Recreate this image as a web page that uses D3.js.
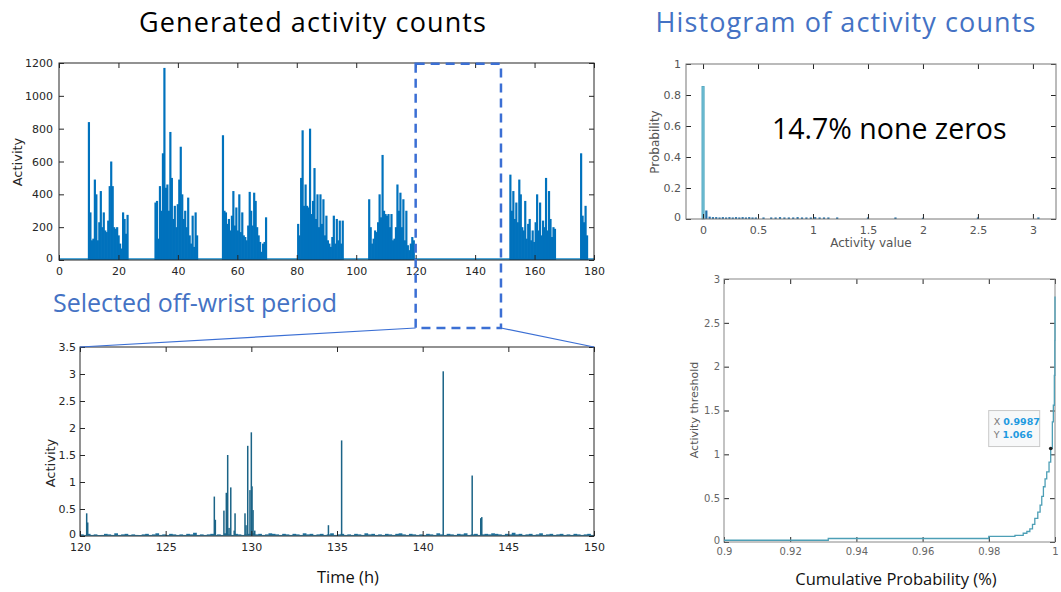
<!DOCTYPE html>
<html>
<head>
<meta charset="utf-8">
<style>
html, body { margin:0; padding:0; background:white; }
svg { display:block; }
.tick line { stroke:#262626; }
</style>
</head>
<body>
<svg id="fig" width="1061" height="592"></svg>
<script src="https://d3js.org/d3.v7.min.js"></script>
<script>
// ---- data: generated activity counts (0.5 h steps inside each wear bout) ----
const boutStarts = [9.7, 32.1, 54.8, 80.1, 104.0, 151.5, 175.3];
const boutStep = 0.5;
const bout1 = [840,290,120,130,490,400,120,230,420,200,290,180,170,240,450,600,450,200,190,200,150,100,70,290,250,160,275];
const bout2 = [350,360,130,450,300,650,1170,440,460,300,780,500,250,330,200,340,490,690,400,250,300,200,380,150,100,270,80,290,150];
const bout3 = [760,300,290,220,250,180,270,420,210,320,180,400,170,290,150,140,120,210,415,300,210,410,360,200,150,110,50,100,110,260];
const bout4 = [220,150,500,790,330,460,330,320,800,280,360,560,250,400,200,400,220,370,150,270,120,100,80,140,270,100,250,120,240,100,240];
const bout5 = [370,200,100,130,180,170,230,400,260,640,300,280,270,280,200,280,120,130,200,460,300,410,200,370,120,300,90,60,100,140,120];
const bout6 = [520,300,420,250,350,230,490,400,200,180,360,130,220,250,120,180,110,230,400,180,350,150,240,200,500,180,420,250,140,200,190];
const bout7 = [650,270,230,330,150];
const bouts = [bout1, bout2, bout3, bout4, bout5, bout6, bout7];
const zoomRange = [120, 148.7];

// ---- data: selected off-wrist period (120-150 h) ----
const noiseStart = 120, noiseStep = 0.2;
const offNoise = [
  0.03,0.02,0.04,0.02,0.03,0.01,0.02,0.04,0.03,0.02,
  0.05,0.02,0.03,0.04,0.02,0.03,0.02,0.01,0.03,0.04,
  0.02,0.03,0.05,0.02,0.03,0.02,0.04,0.03,0.02,0.03,
  0.02,0.04,0.03,0.06,0.02,0.03,0.02,0.03,0.04,0.02,
  0.03,0.02,0.05,0.03,0.02,0.04,0.03,0.02,0.03,0.04,
  0.05,0.03,0.04,0.02,0.03,0.05,0.04,0.03,0.02,0.04,
  0.03,0.02,0.04,0.03,0.02,0.05,0.03,0.04,0.02,0.03,
  0.04,0.02,0.03,0.05,0.02,0.03,0.04,0.02,0.03,0.02,
  0.04,0.03,0.02,0.05,0.03,0.04,0.02,0.03,0.02,0.04,
  0.03,0.02,0.04,0.05,0.03,0.02,0.04,0.03,0.02,0.03,
  0.02,0.04,0.03,0.02,0.05,0.03,0.02,0.04,0.03,0.02,
  0.04,0.03,0.05,0.02,0.03,0.04,0.02,0.03,0.04,0.03,
  0.05,0.04,0.03,0.02,0.04,0.03,0.06,0.03,0.04,0.02,
  0.03,0.04,0.02,0.03,0.05,0.02,0.03,0.04,0.02,0.03,
  0.04,0.02,0.03,0.02,0.04,0.03,0.02,0.03,0.04,0.02];
const spikeTimes = [120.39,120.45,127.84,127.9,128.4,128.54,128.62,128.7,128.8,129.0,129.05,129.63,129.69,129.79,129.92,130.0,130.04,130.1,130.2,134.5,135.27,141.2,142.89,143.39,143.45];
const spikeVals  = [0.42,0.25,0.73,0.3,0.47,0.8,1.5,0.15,0.9,0.1,0.42,0.42,0.2,1.67,0.85,1.92,0.92,0.48,0.1,0.2,1.77,3.05,1.12,0.33,0.35];

// ---- data: histogram of activity counts ----
const histX = [0.00,0.03,0.06,0.09,0.12,0.15,0.18,0.21,0.24,0.27,0.30,0.33,0.36,0.39,0.42,0.45,0.48,0.55,0.62,0.66,0.70,0.74,0.78,0.82,0.86,0.90,0.94,0.98,1.02,1.06,1.10,1.14,1.22,1.50,1.75,2.00,2.50,3.05];
const histP = [0.855,0.055,0.015,0.012,0.012,0.01,0.012,0.01,0.012,0.01,0.012,0.01,0.012,0.01,0.012,0.01,0.01,0.01,0.01,0.01,0.012,0.01,0.01,0.01,0.012,0.01,0.01,0.01,0.012,0.01,0.01,0.01,0.01,0.01,0.01,0.008,0.01,0.01];

// ---- data: cumulative probability vs activity threshold ----
const cdfX = [0.9,0.9315,0.98,0.9879,0.9904,0.9915,0.9924,0.9932,0.9939,0.9948,0.9955,0.996,0.9965,0.997,0.9975,0.9982,0.9987,0.9992,0.9995,0.9998,0.99995,1.0];
const cdfY = [0.02,0.04,0.065,0.076,0.1,0.12,0.15,0.2,0.27,0.34,0.42,0.52,0.63,0.72,0.8,0.91,1.066,1.37,1.56,1.9,2.3,2.8];
const tipX = 0.9987, tipY = 1.066;

const svg = d3.select("#fig");
const blue = "#4472C4";
const tickFont = "DejaVu Sans, sans-serif";

function frame(g, x, y, opt){
  const [x0,x1] = x.range(), [y1,y0] = y.range();
  const col = opt.color;
  const bx = g.append("g").attr("transform",`translate(0,${y1})`)
    .call(d3.axisBottom(x).tickValues(opt.xt).tickFormat(opt.xf).tickSize(-5).tickPadding(opt.xpad||6));
  const by = g.append("g").attr("transform",`translate(${x0},0)`)
    .call(d3.axisLeft(y).tickValues(opt.yt).tickFormat(opt.yf).tickSize(-5).tickPadding(opt.ypad||5));
  const tx = g.append("g").attr("transform",`translate(0,${y0})`)
    .call(d3.axisTop(x).tickValues(opt.xt).tickFormat("").tickSize(-5));
  const ry = g.append("g").attr("transform",`translate(${x1},0)`)
    .call(d3.axisRight(y).tickValues(opt.yt).tickFormat("").tickSize(-5));
  [bx,by,tx,ry].forEach(a=>{
    a.select(".domain").remove();
    a.selectAll(".tick line").attr("stroke",col);
    a.selectAll("text").attr("font-family",tickFont).attr("font-size",opt.fs).attr("fill",opt.tc);
  });
  // lift the lowest y label a little so it does not sit on the first x label
  by.selectAll(".tick").filter(d=>d===0).select("text").attr("dy","0.1em");
  g.append("rect").attr("x",x0).attr("y",y0).attr("width",x1-x0).attr("height",y1-y0)
    .attr("fill","none").attr("stroke",col).attr("stroke-width",1);
}

// ================= top-left: generated activity counts =================
const xA = d3.scaleLinear().domain([0,180]).range([59,594]);
const yA = d3.scaleLinear().domain([0,1200]).range([260,63]);
const gA = svg.append("g");
gA.append("line").attr("x1",xA(0)).attr("x2",xA(180)).attr("y1",yA(0)-1).attr("y2",yA(0)-1)
  .attr("stroke","#4fa9dc").attr("stroke-width",2);
bouts.forEach((vals,b)=>{
  gA.append("g").selectAll("rect").data(vals).join("rect")
    .attr("x",(d,i)=>xA(boutStarts[b]+i*boutStep))
    .attr("width",xA(boutStep)-xA(0)+0.7)
    .attr("y",d=>yA(d))
    .attr("height",d=>yA(0)-yA(d))
    .attr("fill","#0072BD");
});
frame(gA,xA,yA,{xt:d3.range(0,181,20),yt:d3.range(0,1201,200),xf:d3.format("d"),yf:d3.format("d"),
  color:"#262626",tc:"#262626",fs:11,xpad:7,ypad:6});
gA.append("text").attr("transform","translate(22,162) rotate(-90)").attr("text-anchor","middle")
  .attr("font-family",tickFont).attr("font-size",13).attr("fill","#262626").text("Activity");

// ================= bottom-left: off-wrist period =================
const xB = d3.scaleLinear().domain([120,150]).range([80,594]);
const yB = d3.scaleLinear().domain([0,3.5]).range([536,347]);
const gB = svg.append("g");
gB.append("g").selectAll("rect").data(offNoise).join("rect")
  .attr("x",(d,i)=>xB(noiseStart+i*noiseStep))
  .attr("width",xB(noiseStep)-xB(0)+0.3)
  .attr("y",d=>yB(d)).attr("height",d=>yB(0)-yB(d))
  .attr("fill","#1d6f9a");
gB.append("g").selectAll("rect").data(spikeVals).join("rect")
  .attr("x",(d,i)=>xB(spikeTimes[i])-0.75).attr("width",1.5)
  .attr("y",d=>yB(d)).attr("height",d=>yB(0)-yB(d))
  .attr("fill","#1b6487");
gB.append("line").attr("x1",xB(120)).attr("x2",xB(150)).attr("y1",yB(0)-0.5).attr("y2",yB(0)-0.5)
  .attr("stroke","#3f9ccc").attr("stroke-width",1.2);
frame(gB,xB,yB,{xt:d3.range(120,151,5),yt:d3.range(0,3.51,0.5),xf:d3.format("d"),yf:d3.format("~g"),
  color:"#262626",tc:"#262626",fs:11,xpad:7,ypad:4});
gB.append("text").attr("transform","translate(55,463) rotate(-90)").attr("text-anchor","middle")
  .attr("font-family",tickFont).attr("font-size",13).attr("fill","#262626").text("Activity");
gB.append("text").attr("x",348).attr("y",583).attr("text-anchor","middle")
  .attr("font-family","Open Sans, sans-serif").attr("font-size",16.5).attr("fill","#111").text("Time (h)");

// ================= zoom box and connectors =================
const boxL = xA(zoomRange[0]), boxR = xA(zoomRange[1]), boxT = yA(1195), boxB = yA(0)+68;
svg.append("rect").attr("x",boxL).attr("y",boxT).attr("width",boxR-boxL).attr("height",boxB-boxT)
  .attr("fill","none").attr("stroke","#3b6fd4").attr("stroke-width",2.5).attr("stroke-dasharray","9,6");
svg.append("line").attr("x1",boxL).attr("y1",boxB).attr("x2",xB(120)).attr("y2",yB(3.5))
  .attr("stroke","#3b6fd4").attr("stroke-width",1.2);
svg.append("line").attr("x1",boxR).attr("y1",boxB).attr("x2",xB(150)).attr("y2",yB(3.5))
  .attr("stroke","#3b6fd4").attr("stroke-width",1.2);

// ================= top-right: histogram =================
const xH = d3.scaleLinear().domain([-0.155,3.21]).range([686,1056]);
const yH = d3.scaleLinear().domain([0,1]).range([219,64]);
const gH = svg.append("g");
gH.append("g").selectAll("rect").data(histP).join("rect")
  .attr("x",(d,i)=>xH(histX[i])-1.1).attr("width",2.2)
  .attr("y",d=>yH(d)).attr("height",d=>yH(0)-yH(d))
  .attr("fill",(d,i)=>i===0?"#74c0d6":"#1f6fa8")
  .attr("stroke",(d,i)=>i===0?"#4aa3bd":"none").attr("stroke-width",0.8);
frame(gH,xH,yH,{xt:d3.range(0,3.01,0.5),yt:d3.range(0,1.01,0.2),xf:d3.format("~g"),yf:d3.format("~g"),
  color:"#777",tc:"#555",fs:11,xpad:7,ypad:5});
gH.append("text").attr("transform","translate(659,142) rotate(-90)").attr("text-anchor","middle")
  .attr("font-family",tickFont).attr("font-size",12).attr("fill","#555").text("Probability");
gH.append("text").attr("x",871).attr("y",247).attr("text-anchor","middle")
  .attr("font-family",tickFont).attr("font-size",12).attr("fill","#555").text("Activity value");
gH.append("text").attr("x",772).attr("y",139)
  .attr("font-family","Open Sans, sans-serif").attr("font-size",28.5).attr("fill","#000").text("14.7% none zeros");

// ================= bottom-right: cumulative probability =================
const xC = d3.scaleLinear().domain([0.9,1]).range([724,1055]);
const yC = d3.scaleLinear().domain([0,3]).range([542,279]);
const gC = svg.append("g");
frame(gC,xC,yC,{xt:d3.range(0.9,1.0001,0.02),yt:d3.range(0,3.01,0.5),xf:d3.format("~g"),yf:d3.format("~g"),
  color:"#888",tc:"#666",fs:10,xpad:6,ypad:4});
gC.append("path").datum(cdfX)
  .attr("d",d3.line().x(d=>xC(d)).y((d,i)=>yC(cdfY[i])).curve(d3.curveStepAfter))
  .attr("fill","none").attr("stroke","#4d9fb6").attr("stroke-width",1.3);
gC.append("text").attr("transform","translate(698,410) rotate(-90)").attr("text-anchor","middle")
  .attr("font-family",tickFont).attr("font-size",11).attr("fill","#555").text("Activity threshold");
gC.append("text").attr("x",896).attr("y",585).attr("text-anchor","middle")
  .attr("font-family","Open Sans, sans-serif").attr("font-size",16.5).attr("fill","#111").text("Cumulative Probability (%)");
// data tip
const px = xC(tipX), py = yC(tipY);
gC.append("circle").attr("cx",px).attr("cy",py).attr("r",1.8).attr("fill","#222");
const tip = gC.append("g").attr("transform",`translate(${px-62},${py-38})`);
tip.append("rect").attr("width",51).attr("height",36).attr("fill","#f7f8f9").attr("stroke","#c9c9c9");
[["X",d3.format(".4f")(tipX)],["Y",d3.format(".3f")(tipY)]].forEach((r,i)=>{
  const t = tip.append("text").attr("x",5).attr("y",14+i*13).attr("font-family",tickFont).attr("font-size",9.5);
  t.append("tspan").attr("fill","#777").text(r[0]+" ");
  t.append("tspan").attr("fill","#1f9ae0").attr("font-weight","bold").text(r[1]);
});

// ================= titles =================
svg.append("text").attr("x",313).attr("y",32).attr("text-anchor","middle")
  .attr("font-family","Open Sans, sans-serif").attr("font-size",27).attr("letter-spacing",1.1)
  .attr("fill","#000").text("Generated activity counts");
svg.append("text").attr("x",846).attr("y",32).attr("text-anchor","middle")
  .attr("font-family","Open Sans, sans-serif").attr("font-size",27).attr("letter-spacing",1.1)
  .attr("fill",blue).text("Histogram of activity counts");
svg.append("text").attr("x",53).attr("y",312)
  .attr("font-family","Open Sans, sans-serif").attr("font-size",25).attr("fill",blue).text("Selected off-wrist period");
</script>
</body>
</html>
